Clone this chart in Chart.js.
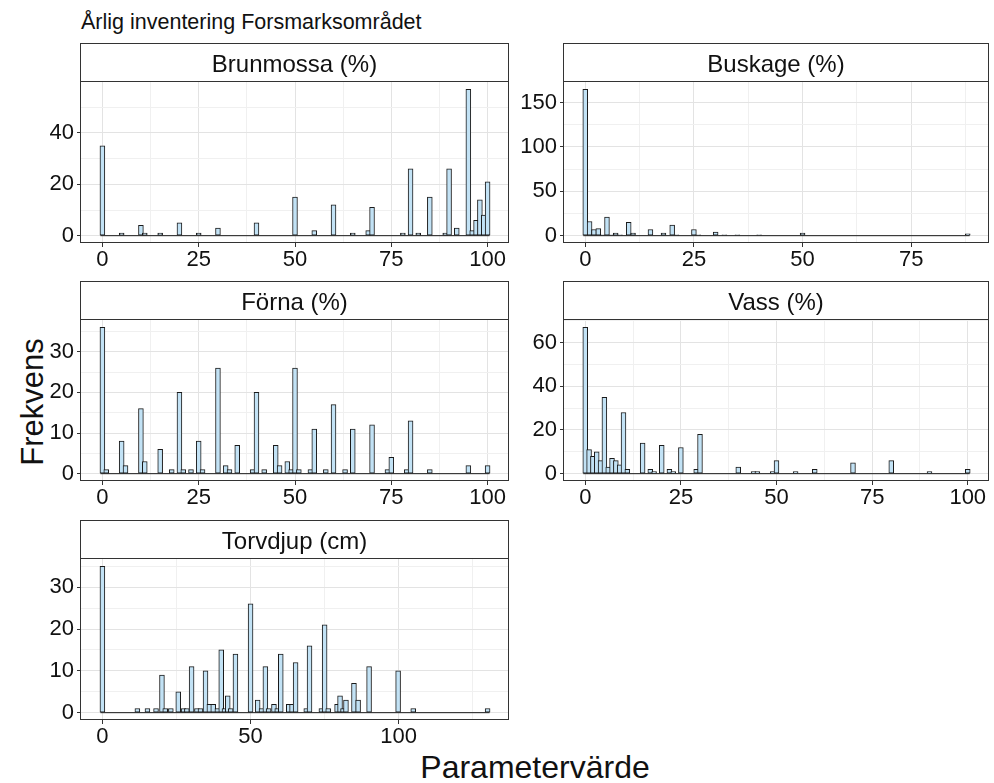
<!DOCTYPE html>
<html>
<head>
<meta charset="utf-8">
<script src="https://cdn.jsdelivr.net/npm/chart.js@4.4.0/dist/chart.umd.min.js"></script>
<style>
  body { margin: 0; background: #fff; width: 994px; height: 783px; position: relative; overflow: hidden;
         font-family: "Liberation Sans", Arial, sans-serif; color: #111; }
  canvas { position: absolute; }
  #title { position: absolute; left: 81px; top: 10px; font-size: 21.5px; white-space: nowrap; }
  #ylab { position: absolute; left: 33px; top: 402px; transform: translate(-50%, -50%) rotate(-90deg);
          font-size: 31px; white-space: nowrap; }
  #xlab { position: absolute; left: 535px; top: 767px; transform: translate(-50%, -50%);
          font-size: 32px; white-space: nowrap; }
</style>
</head>
<body>
<div id="title">Årlig inventering Forsmarksområdet</div>
<div id="ylab">Frekvens</div>
<div id="xlab">Parametervärde</div>
<canvas id="brunmossa" width="513" height="234" style="left:0px;top:40px"></canvas>
<canvas id="buskage" width="510" height="234" style="left:483px;top:40px"></canvas>
<canvas id="forna" width="513" height="234" style="left:0px;top:278px"></canvas>
<canvas id="vass" width="510" height="234" style="left:483px;top:278px"></canvas>
<canvas id="torvdjup" width="513" height="234" style="left:0px;top:517px"></canvas>
<script>
// histogramstaplar: x = staplens mitt, n = antal
const brunX = [0, 5, 10, 11, 15, 20, 25, 30, 40, 50, 55, 60, 65, 69, 70, 78, 80, 82, 85, 89, 90, 92, 95, 96, 97, 98, 99, 100];
const brunN = [35, 1, 4, 1, 1, 5, 1, 3, 5, 15, 2, 12, 1, 2, 11, 1, 26, 1, 15, 1, 26, 3, 57, 2, 6, 14, 8, 21];

const buskX = [0, 1, 2, 3, 4, 5, 6, 7, 8, 10, 11, 15, 18, 20, 21, 25, 26, 30, 32, 35, 40, 50, 88];
const buskN = [165, 16, 7, 8, 1, 21, 1, 3, 1, 15, 3, 7, 3, 12, 1, 7, 1, 4, 1, 1, 1, 3, 2];

const fornaX = [0, 1, 5, 6, 10, 11, 15, 18, 20, 21, 23, 25, 26, 30, 32, 33, 35, 39, 40, 42,
                45, 46, 48, 49, 50, 51, 54, 55, 58, 60, 63, 65, 70, 74, 75, 79, 80, 85, 95, 100];
const fornaN = [36, 1, 8, 2, 16, 3, 6, 1, 20, 1, 1, 8, 1, 26, 2, 1, 7, 1, 20, 1,
                7, 2, 3, 1, 26, 1, 1, 11, 1, 17, 1, 11, 12, 1, 4, 1, 13, 1, 2, 2];

const vassX = [0, 1, 2, 3, 4, 5, 6, 7, 8, 9, 10, 11, 15, 17, 18, 20, 22, 23, 25, 29, 30,
               40, 44, 45, 49, 50, 55, 60, 70, 80, 90, 100];
const vassN = [67, 11, 8, 10, 6, 35, 3, 7, 6, 4, 28, 2, 14, 2, 1, 13, 2, 1, 12, 2, 18,
               3, 1, 1, 1, 6, 1, 2, 5, 6, 1, 2];

const torvX = [0, 11.8, 15.2, 18.1, 20.1, 21.2, 23.1, 25.6, 27.4, 28.5, 30.1, 31.9, 33.1, 34.8, 36.1, 37.4,
               38.8, 40.1, 41.2, 42.3, 43.3, 44.9, 50, 52.4, 53.7, 55, 56.1, 57.9, 59, 60.2, 62.9, 64,
               65.2, 68.8, 69.9, 73.9, 75, 76.2, 79.2, 80.2, 81.2, 82.2, 84.9, 86.3, 90, 99.8, 104.9, 130];
const torvN = [35, 1, 1, 1, 9, 1, 1, 5, 1, 1, 11, 1, 1, 10, 2, 2,
               1, 15, 1, 4, 1, 14, 26, 3, 1, 11, 1, 2, 1, 14, 2, 2,
               12, 1, 16, 1, 21, 1, 2, 4, 1, 3, 7, 3, 11, 10, 1, 1];

const nBins = 100;

Chart.defaults.font.family = '"Liberation Sans", Arial, sans-serif';
Chart.defaults.color = '#111';

// ram runt panelen + remsa med rubrik
const facetFrame = {
  id: 'facetFrame',
  afterDraw(chart, args, opts) {
    const ctx = chart.ctx;
    const a = chart.chartArea;
    const l = Math.round(a.left) - 0.5, r = Math.round(a.right) - 0.5;
    const t = Math.round(a.top) - 0.5, b = Math.round(a.bottom) - 0.5;
    const stripH = 38;
    ctx.save();
    ctx.fillStyle = '#fff';
    ctx.fillRect(l, t - stripH, r - l, stripH);
    ctx.strokeStyle = '#333';
    ctx.lineWidth = 1;
    ctx.strokeRect(l, t - stripH, r - l, stripH);
    ctx.strokeRect(l, t, r - l, b - t);
    ctx.fillStyle = '#111';
    ctx.font = '24px "Liberation Sans", Arial, sans-serif';
    ctx.textAlign = 'center';
    ctx.textBaseline = 'middle';
    ctx.fillText(opts.label, (l + r) / 2, t - stripH / 2 + 3);
    ctx.restore();
  }
};

const isMajor = (v, step) => Math.abs(v / step - Math.round(v / step)) < 1e-6;

function drawPanel(id, label, xs, ns, xStep, yStep, plotW) {
  const xMin = Math.min(...xs), xMax = Math.max(...xs);
  const w = (xMax - xMin) / (nBins - 1);
  const lo = xMin - w / 2, hi = xMax + w / 2;
  const xPad = (hi - lo) * 0.05;
  const yTop = Math.max(...ns);
  const barPx = plotW * w / (hi - lo + 2 * xPad) + 1;

  new Chart(document.getElementById(id), {
    type: 'bar',
    data: {
      datasets: [
        {
          type: 'bar',
          data: xs.map((x, i) => ({ x: x, y: ns[i] })),
          backgroundColor: '#c2e2f5',
          borderColor: '#1a1a1a',
          borderWidth: 1,
          borderSkipped: false,
          barThickness: barPx,
          order: 1
        },
        {
          type: 'line',
          data: [{ x: lo, y: 0 }, { x: hi, y: 0 }],
          borderColor: '#1a1a1a',
          borderWidth: 1,
          pointRadius: 0,
          order: 0
        }
      ]
    },
    options: {
      responsive: false,
      animation: false,
      layout: { padding: { left: 0, top: 42, right: 4, bottom: 0 } },
      plugins: {
        legend: { display: false },
        tooltip: { enabled: false },
        facetFrame: { label: label }
      },
      scales: {
        x: {
          type: 'linear',
          min: lo - xPad,
          max: hi + xPad,
          offset: false,
          border: { display: false },
          grid: {
            offset: false,
            color: c => isMajor(c.tick.value, xStep) ? '#e3e3e3' : '#f0f0f0',
            tickColor: c => isMajor(c.tick.value, xStep) ? '#333' : 'rgba(0,0,0,0)',
            tickLength: 4
          },
          ticks: {
            stepSize: xStep / 2,
            includeBounds: false,
            autoSkip: false,
            maxRotation: 0,
            padding: 0,
            font: { size: 22 },
            color: '#111',
            callback: v => isMajor(v, xStep) ? v : ''
          },
          afterFit: s => { s.height = 31; }
        },
        y: {
          min: -0.05 * yTop,
          max: 1.05 * yTop,
          border: { display: false },
          grid: {
            color: c => isMajor(c.tick.value, yStep) ? '#e3e3e3' : '#f0f0f0',
            tickColor: c => isMajor(c.tick.value, yStep) ? '#333' : 'rgba(0,0,0,0)',
            tickLength: 4
          },
          ticks: {
            stepSize: yStep / 2,
            includeBounds: false,
            autoSkip: false,
            padding: 3,
            font: { size: 22 },
            color: '#111',
            callback: v => isMajor(v, yStep) ? v : ''
          },
          afterFit: s => { s.width = 81; }
        }
      }
    },
    plugins: [facetFrame]
  });
}

drawPanel('brunmossa', 'Brunmossa (%)', brunX, brunN, 25, 20, 428);
drawPanel('buskage', 'Buskage (%)', buskX, buskN, 25, 50, 425);
drawPanel('forna', 'Förna (%)', fornaX, fornaN, 25, 10, 428);
drawPanel('vass', 'Vass (%)', vassX, vassN, 25, 20, 425);
drawPanel('torvdjup', 'Torvdjup (cm)', torvX, torvN, 50, 10, 428);
</script>
</body>
</html>
